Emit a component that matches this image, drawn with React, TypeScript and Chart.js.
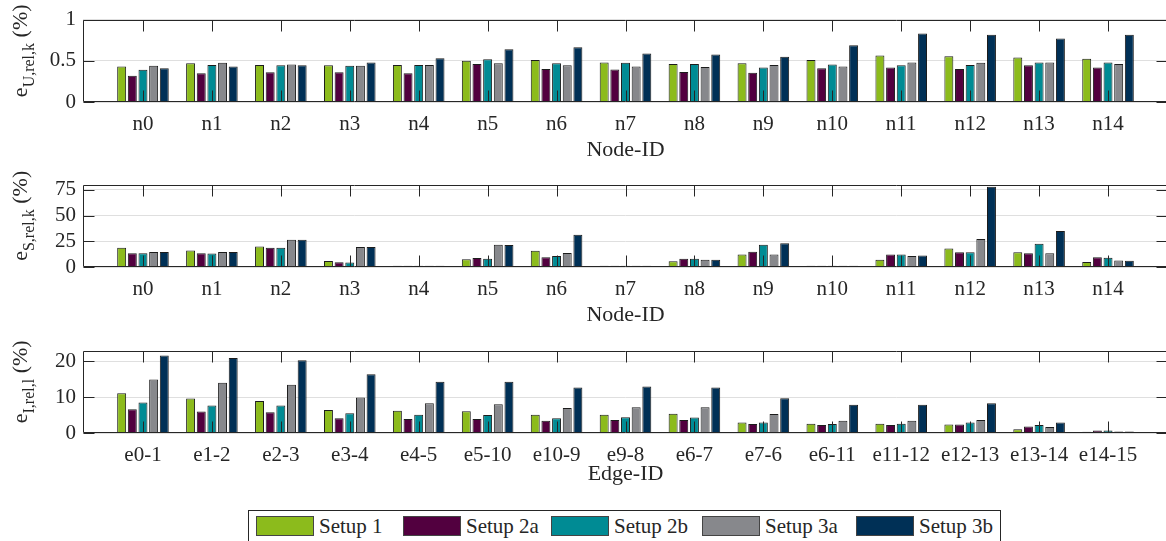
import React, { useEffect, useRef } from "react";
import { Chart, registerables } from "chart.js";

Chart.register(...registerables);

const FONT = "'Liberation Serif', 'Times New Roman', serif";
const INK = "#262626";

const SERIES = ["Setup 1", "Setup 2a", "Setup 2b", "Setup 3a", "Setup 3b"];
const COLORS = ["#8cbb1c", "#52003f", "#008b94", "#87888c", "#003056"];

const NODE_IDS = ["n0", "n1", "n2", "n3", "n4", "n5", "n6", "n7", "n8", "n9", "n10", "n11", "n12", "n13", "n14"];
const EDGE_IDS = ["e0-1", "e1-2", "e2-3", "e3-4", "e4-5", "e5-10", "e10-9", "e9-8", "e6-7", "e7-6", "e6-11", "e11-12", "e12-13", "e13-14", "e14-15"];

// e_U,rel,k (%)
const U_SETUP1 = [0.43, 0.47, 0.45, 0.445, 0.45, 0.5, 0.51, 0.48, 0.46, 0.47, 0.51, 0.565, 0.555, 0.54, 0.525];
const U_SETUP2A = [0.32, 0.35, 0.36, 0.36, 0.35, 0.46, 0.4, 0.395, 0.365, 0.355, 0.41, 0.42, 0.4, 0.445, 0.42];
const U_SETUP2B = [0.39, 0.45, 0.445, 0.44, 0.45, 0.52, 0.47, 0.475, 0.46, 0.42, 0.455, 0.445, 0.45, 0.48, 0.48];
const U_SETUP3A = [0.44, 0.475, 0.455, 0.44, 0.45, 0.47, 0.445, 0.43, 0.425, 0.45, 0.43, 0.48, 0.475, 0.48, 0.46];
const U_SETUP3B = [0.41, 0.43, 0.445, 0.48, 0.53, 0.64, 0.665, 0.59, 0.575, 0.55, 0.69, 0.83, 0.815, 0.77, 0.815];

// e_S,rel,k (%)
const S_SETUP1 = [18.8, 16.1, 19.8, 5.8, 1.2, 7.6, 15.8, 1.1, 5.5, 12.2, 1.1, 7.0, 17.9, 14.3, 4.9];
const S_SETUP2A = [13.4, 13.4, 18.8, 4.6, 1.2, 8.8, 9.4, 1.1, 7.9, 14.9, 1.1, 12.2, 14.3, 13.4, 9.4];
const S_SETUP2B = [13.4, 13.2, 18.8, 4.3, 1.2, 7.9, 10.6, 1.1, 7.9, 21.6, 1.1, 12.2, 14.3, 22.5, 9.1];
const S_SETUP3A = [14.6, 14.6, 26.4, 19.5, 1.2, 21.6, 13.7, 1.1, 7.0, 12.2, 1.1, 10.6, 27.1, 13.4, 6.4];
const S_SETUP3B = [14.6, 14.6, 26.4, 19.5, 1.2, 21.3, 31.3, 1.1, 7.0, 23.1, 1.1, 11.2, 77.8, 35.0, 6.1];

// e_I,rel,l (%)
const I_SETUP1 = [11.1, 9.65, 8.95, 6.4, 6.2, 6.1, 5.1, 5.1, 5.4, 2.9, 2.6, 2.6, 2.35, 1.05, 0.35];
const I_SETUP2A = [6.6, 6.0, 5.8, 4.1, 3.9, 3.9, 3.4, 3.65, 3.65, 2.5, 2.2, 2.2, 2.35, 1.8, 0.7];
const I_SETUP2B = [8.5, 7.7, 7.65, 5.5, 5.1, 5.0, 4.1, 4.4, 4.35, 2.9, 2.5, 2.6, 2.9, 2.2, 0.7];
const I_SETUP3A = [14.9, 14.0, 13.5, 9.9, 8.3, 8.0, 7.0, 7.2, 7.2, 5.3, 3.4, 3.4, 3.65, 1.65, 0.45];
const I_SETUP3B = [21.6, 20.9, 20.3, 16.4, 14.3, 14.3, 12.7, 13.0, 12.7, 9.7, 7.9, 7.9, 8.3, 2.95, 0.45];

const U_TICKS = [0, 0.5, 1];
const S_TICKS = [0, 25, 50, 75];
const I_TICKS = [0, 10, 20];

const U_MAX = 1;
const S_MAX = 80;
const I_MAX = 23;

const X_MIN = -0.87;
const X_MAX = 14.87;

const frameAndTitle = {
  id: "frameAndTitle",
  afterDatasetsDraw(chart: any, _args: any, opts: any) {
    const { ctx, chartArea: a, scales } = chart;
    const xs = scales.x;
    const ys = scales.y;
    ctx.save();
    ctx.strokeStyle = INK;
    ctx.lineWidth = 1;
    const L = Math.round(a.left) + 0.5;
    const R = Math.round(a.right) - 0.5;
    const T = Math.round(a.top) + 0.5;
    const B = Math.round(a.bottom) - 0.5;
    const tl = 11;
    ctx.beginPath();
    ctx.rect(L, T, R - L, B - T);
    xs.ticks.forEach((t: any) => {
      const px = Math.round(xs.getPixelForValue(t.value)) + 0.5;
      ctx.moveTo(px, T);
      ctx.lineTo(px, T + tl);
      ctx.moveTo(px, B);
      ctx.lineTo(px, B - tl);
    });
    ys.ticks.forEach((t: any) => {
      const py = Math.round(ys.getPixelForValue(t.value)) + 0.5;
      ctx.moveTo(L, py);
      ctx.lineTo(L + tl, py);
      ctx.moveTo(R, py);
      ctx.lineTo(R - tl, py);
    });
    ctx.stroke();

    // y-axis title with subscript
    const cy = (a.top + a.bottom) / 2 - 10;
    ctx.translate(27, cy);
    ctx.rotate(-Math.PI / 2);
    ctx.fillStyle = INK;
    ctx.textBaseline = "alphabetic";
    const mainFont = `22px ${FONT}`;
    const subFont = `16px ${FONT}`;
    ctx.font = mainFont;
    const wE = ctx.measureText(opts.main).width;
    const wP = ctx.measureText(" (%)").width;
    ctx.font = subFont;
    const wS = ctx.measureText(opts.sub).width;
    const total = wE + wS + wP;
    let sx = -total / 2;
    ctx.font = mainFont;
    ctx.fillText(opts.main, sx, 0);
    sx += wE;
    ctx.font = subFont;
    ctx.fillText(opts.sub, sx, 7);
    sx += wS;
    ctx.font = mainFont;
    ctx.fillText(" (%)", sx, 0);
    ctx.restore();
  },
};

type PanelProps = {
  labels: string[];
  values: number[][];
  yMax: number;
  yTicks: number[];
  sub: string;
  xTitle: string;
  titlePadBottom: number;
  top: number;
};

function Panel(props: PanelProps) {
  const ref = useRef<HTMLCanvasElement | null>(null);
  useEffect(() => {
    if (!ref.current) return;
    const { labels, values, yMax, yTicks, sub, xTitle, titlePadBottom } = props;
    const chart = new Chart(ref.current, {
      type: "bar",
      data: {
        datasets: SERIES.map((name, si) => ({
          label: name,
          data: values[si].map((v, i) => ({ x: i, y: v })),
          backgroundColor: COLORS[si],
          borderColor: "#1c1c1c",
          borderWidth: 1,
          categoryPercentage: 0.773,
          barPercentage: 0.84,
        })),
      },
      options: {
        responsive: false,
        maintainAspectRatio: false,
        animation: false,
        devicePixelRatio: 1,
        layout: { padding: { top: 14, right: 4, left: 0, bottom: 0 } },
        plugins: {
          legend: { display: false },
          tooltip: { enabled: false },
          frameAndTitle: { main: "e", sub },
        } as any,
        scales: {
          x: {
            type: "linear",
            min: X_MIN,
            max: X_MAX,
            offset: false,
            grid: { display: false, drawTicks: false },
            border: { display: false },
            afterBuildTicks: (scale: any) => {
              scale.ticks = labels.map((_, i) => ({ value: i }));
            },
            afterFit: (scale: any) => {
              scale.height = 63;
            },
            ticks: {
              autoSkip: false,
              maxRotation: 0,
              minRotation: 0,
              padding: 10,
              color: INK,
              font: { family: FONT, size: 21 },
              callback: (v: any) => labels[Math.round(Number(v))] ?? "",
            },
            title: {
              display: true,
              text: xTitle,
              color: INK,
              font: { family: FONT, size: 22 },
              padding: { top: 0, bottom: titlePadBottom },
            },
          },
          y: {
            type: "linear",
            min: 0,
            max: yMax,
            grid: { display: true, drawTicks: false, color: "#dfdfdf", lineWidth: 1 },
            border: { display: false },
            afterBuildTicks: (scale: any) => {
              scale.ticks = yTicks.map((v) => ({ value: v }));
            },
            afterFit: (scale: any) => {
              scale.width = 83;
            },
            ticks: {
              autoSkip: false,
              padding: 7,
              color: INK,
              font: { family: FONT, size: 21 },
              callback: (v: any) => String(v),
            },
          },
        },
      } as any,
      plugins: [frameAndTitle as any],
    });
    return () => chart.destroy();
  }, []);
  return (
    <canvas
      ref={ref}
      width={1172}
      height={165}
      style={{ position: "absolute", left: 0, top: props.top, width: 1172, height: 165 }}
    />
  );
}

const LEGEND_X = [256, 403, 551, 702, 856];

export default function App() {
  return (
    <div
      style={{
        position: "fixed",
        left: 0,
        top: 0,
        width: 1166,
        height: 541,
        overflow: "hidden",
        background: "#ffffff",
      }}
    >
      <Panel
        labels={NODE_IDS}
        values={[U_SETUP1, U_SETUP2A, U_SETUP2B, U_SETUP3A, U_SETUP3B]}
        yMax={U_MAX}
        yTicks={U_TICKS}
        sub="U,rel,k"
        xTitle="Node-ID"
        titlePadBottom={1.5}
        top={0}
      />
      <Panel
        labels={NODE_IDS}
        values={[S_SETUP1, S_SETUP2A, S_SETUP2B, S_SETUP3A, S_SETUP3B]}
        yMax={S_MAX}
        yTicks={S_TICKS}
        sub="S,rel,k"
        xTitle="Node-ID"
        titlePadBottom={1.5}
        top={165}
      />
      <Panel
        labels={EDGE_IDS}
        values={[I_SETUP1, I_SETUP2A, I_SETUP2B, I_SETUP3A, I_SETUP3B]}
        yMax={I_MAX}
        yTicks={I_TICKS}
        sub="I,rel,l"
        xTitle="Edge-ID"
        titlePadBottom={9}
        top={331}
      />
      <div
        style={{
          position: "absolute",
          left: 248,
          top: 510,
          width: 753,
          height: 40,
          border: `1px solid ${INK}`,
          background: "#fff",
          boxSizing: "border-box",
        }}
      />
      {SERIES.map((name, i) => (
        <React.Fragment key={name}>
          <div
            style={{
              position: "absolute",
              left: LEGEND_X[i],
              top: 516,
              width: 58,
              height: 20,
              background: COLORS[i],
              border: "1px solid #444",
              boxSizing: "border-box",
            }}
          />
          <div
            style={{
              position: "absolute",
              left: LEGEND_X[i] + 63,
              top: 514,
              height: 24,
              lineHeight: "24px",
              fontFamily: FONT,
              fontSize: 21,
              color: INK,
              whiteSpace: "nowrap",
            }}
          >
            {name}
          </div>
        </React.Fragment>
      ))}
    </div>
  );
}
